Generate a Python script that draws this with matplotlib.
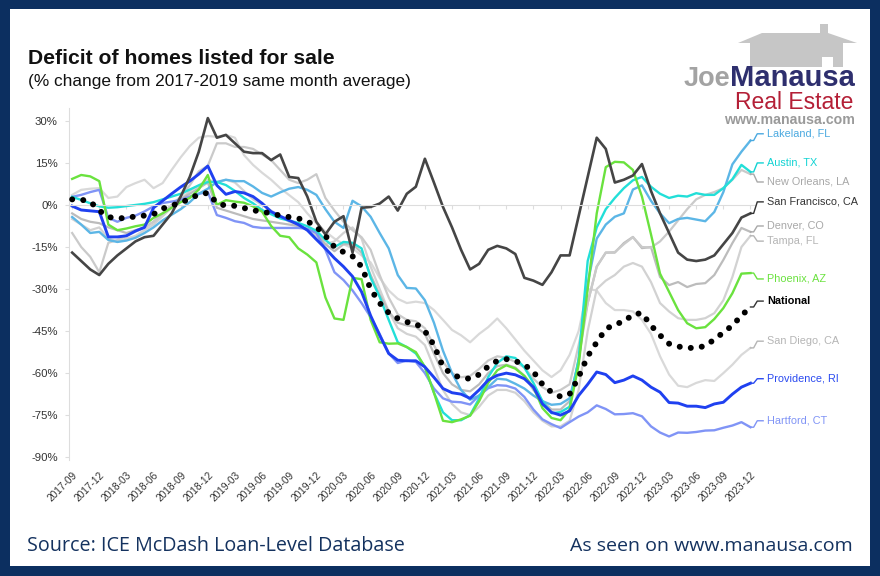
import matplotlib
matplotlib.use("Agg")
import matplotlib.pyplot as plt
from matplotlib.patches import Polygon, Rectangle
import pandas as pd

# months shown (monthly data, ticks every quarter)
months = pd.period_range("2017-09", "2023-12", freq="M").strftime("%Y-%m").tolist()
tick_idx = list(range(0, len(months), 3))

lakeland = [-4.3, -7, -10, -9.6, -12.5, -13.2, -12.7, -11.7, -10, -8, -5.5, -3.5, -1.5, 1, 4, 5.8,
            8.2, 9, 8.5, 8.5, 6.6, 4.3, 3, 4.5, 5.8, 6.4, 5.4, 3.6, -1.5, -6, -8.2, 1.5,
            -0.5, -4.2, -10, -15.5, -25, -29.6, -29.8, -34, -42, -52, -60, -66, -69.5, -68, -65, -62,
            -62.3, -63.8, -65.5, -68, -70, -71.3, -71, -69, -56, -28, -12, -7, -4.2, -3, 5.5, 7,
            1.5, -3, -6.5, -5, -4.6, -5.2, -5.8, -2.5, 4.6, 14.5, 19, 23]
austin = [2.9, 1.8, 0.6, -0.5, -1, -0.8, -0.4, 0, 0.4, 1, 2, 3, 4, 5.5, 7, 8.2,
          8.2, 7.1, 5, 2.5, 0.6, -1.8, -3.3, -4.8, -5.6, -6.4, -7.6, -9.2, -12.5, -15, -13.2, -13.5,
          -15.5, -26, -32.8, -41, -49, -50.7, -53, -57.8, -67, -74, -76.8, -76.8, -75, -69, -61.4, -56.4,
          -54, -54.6, -58, -63.5, -70, -74.3, -73.9, -72, -55, -20, -8, -1.5, 2.5, 6, 8.8, 10,
          6.5, 4, 2.5, 3.3, 3, 4.2, 3.6, 3.6, 6, 9.2, 14.3, 11.8]
new_orleans = [-10, -15, -18.5, -24, -13.5, -12.5, -11, -9.5, -8, -6, -3, 0, 3, 7, 12, 14,
               22, 22, 20.7, 20.7, 20, 18, 16, 12.5, 9, 7.8, 9, 11, 2.5, -2, -6, -9,
               -11.5, -16, -25, -33, -39, -41, -41.5, -44, -50, -56, -60, -61.5, -61, -58.5, -55.5, -54,
               -54.5, -56, -58, -62, -65, -67, -66, -64, -50, -35, -22, -17, -16.8, -14, -11.5, -15,
               -15.2, -13, -9.5, -5.5, -1.5, 2, 3.6, 4.6, 6, 9, 12.5, 11]
san_francisco = [-17, -20, -23, -25, -21, -18, -15.5, -13, -11.5, -11, -7, -3, 3, 10, 19, 31,
                 24, 25, 22, 19, 18.5, 18.5, 16, 18, 10, 9.6, 3, -6, -10.5, -6, -4, -17,
                 -1, -0.7, 0.5, 3, -2, 4, 6.5, 16.5, 8, -0.7, -8, -16, -23, -21, -16, -14.6,
                 -15.5, -17.5, -26, -27, -28.5, -24, -18, -18, -4, 10, 24, 20, 8, 9, 10.5, 14.6,
                 5, -3, -10, -17, -19.5, -20, -19.5, -18, -14, -10, -4.5, -3]
denver = [-3, -5, -6, -6.5, -8, -9, -10, -9, -8, -6, -3, 0, 2, 4, 6, 8,
          -1, -2, -3, -4, -5, -5.5, -6, -6.5, -7, -7.5, -8.5, -10, -14, -16.5, -14, -14,
          -17, -25, -32, -38, -42, -43, -43.5, -46, -53, -60, -64, -66, -66.5, -64, -60, -57.5,
          -57, -58, -61, -66, -70, -73, -73, -70, -55, -35, -22, -17, -17, -13.6, -11.4, -15.4,
          -15, -25.7, -28.6, -27.5, -29.3, -28.2, -27.9, -25, -19.6, -13.6, -8.2, -9.6]
tampa = [-5, -7, -9, -8, -12, -13, -12, -11, -9, -7, -4, -1, 2, 5, 7, 9,
         8, 9, 8, 5, 2, 0, -2, -4, -6, -7, -9, -11, -14, -13, -10, -8,
         -12, -22, -30, -38, -44, -46, -47, -50, -58, -66, -71, -74, -75, -72, -68, -66,
         -66, -67, -70, -74, -77, -79, -79, -77, -66, -45, -30, -27, -25, -22, -20.7, -22,
         -27.5, -35, -38, -40.4, -41, -41, -40.4, -38.6, -34, -25.7, -15, -11]
phoenix = [9.3, 10.7, 10.2, 8.5, -7, -9, -8.4, -7.6, -7, -4.6, -3, -1, 1, 2.5, 5.5, 10.7,
           0, 1.7, 1.2, 0.8, -0.5, -2.4, -7.5, -11, -11.5, -15.5, -17.7, -20.5, -33, -40.5, -41, -26,
           -26.5, -41, -49, -49.5, -49.4, -50.7, -52.5, -57.8, -67, -77, -77.5, -76.5, -75.2, -70, -63.5, -59,
           -57.2, -58.4, -61, -65, -72.5, -76, -76.8, -73, -57, -30, -3, 13.5, 15.4, 15.2, 12.5, 3,
           -10.5, -24.5, -31, -37.5, -42.2, -44, -43.6, -40.7, -36.8, -31.5, -24.5, -24.3]
national = [2, 1.9, 1.2, -2, -4.3, -4.8, -4.6, -4.1, -3.8, -3.3, -1.3, -0.2, 0.8, 2.2, 3.8, 4.3,
            0.7, -0.3, -0.3, -1.1, -1.9, -2.4, -3, -3.8, -4.3, -4.8, -5.8, -7.8, -11, -15, -16.8, -18.3,
            -22, -30, -35, -38.5, -40.5, -41.8, -42.3, -45, -50, -57.8, -60.5, -61.7, -62, -60.5, -57.6, -55.6,
            -55, -55.7, -57, -59.5, -64, -66.8, -68.4, -67.5, -61.4, -54, -49, -44.3, -42.5, -41.7, -39, -38.6,
            -43, -46.5, -49.5, -50.5, -51, -51, -50.3, -48, -45.5, -43, -39.5, -36.4]
san_diego = [3.6, 5.4, 5.8, 6, 2.5, 3, 6.4, 7.8, 9, 6, 7.8, 12.5, 17, 21, 24, 24.6,
             24.3, 25, 24, 17.8, 14.3, 11.5, 9, 6, 3.5, 1, -3, -6.5, -9.5, -12, -14, -15.5,
             -18, -20.5, -26, -30.5, -33.5, -35, -34.5, -35, -37.5, -41, -44.6, -46.5, -49, -46, -43.6, -40.5,
             -44, -48, -52, -55.5, -59, -61.4, -59, -53.5, -45, -30, -30.5, -35, -37.5, -37.5, -38, -41,
             -46, -54, -60.5, -64.5, -65, -63.5, -62.5, -62.8, -60, -57, -53.5, -51]
providence = [-0.4, -1.8, -2.1, -2.4, -11.4, -11.4, -11, -9.3, -8, -1, 1.5, 4, 6.4, 8.5, 11, 13.9,
              7, 3.8, 4.8, 4.3, 3, 0.6, -2.4, -4, -5.5, -7, -9, -12.3, -15.5, -19, -22, -25.5,
              -31, -39.5, -46.5, -53, -55.4, -55.6, -55.6, -57.8, -61.5, -65.5, -67, -67.5, -69, -66, -62.5, -60.8,
              -60, -60.6, -62, -65, -71, -74, -75, -73.5, -68, -64, -59.6, -60.5, -63.4, -62.5, -61, -62.5,
              -65, -66.8, -70.5, -70.7, -71.8, -71.8, -72.3, -71, -70.4, -67.5, -65, -63.6]
hartford = [2.9, 3.6, 4.6, 5.4, -4.6, -6, -4.6, -3.8, -2.3, -0.5, 0.7, 1.2, 1.8, 3, 4, 4.6,
            -3.6, -4.6, -5.8, -6.4, -7.8, -8.2, -8.2, -8.2, -8.2, -8.2, -8.5, -10, -16, -24, -26.8, -30.5,
            -35, -40, -46, -53, -56.4, -55.5, -56, -60, -65.5, -69, -70.2, -70.4, -71.2, -68, -65.4, -64.3,
            -64.5, -65.5, -68.5, -73, -76.5, -78.2, -79.6, -77.5, -75.5, -74, -71.5, -72.8, -74.7, -74.6, -74.3, -75.4,
            -79, -81.2, -82.6, -81.2, -81.3, -81, -80.5, -80.4, -79.5, -78.7, -77.5, -79.3]

# name, values, line colour, label colour, label y position, width
series = [
    ("San Diego, CA", san_diego, "#d9d9d9", "#b5b5b5", -48.6, 1.6),
    ("Tampa, FL", tampa, "#d2d2d2", "#b5b5b5", -12.9, 1.6),
    ("Denver, CO", denver, "#bcbcbc", "#a8a8a8", -7.5, 1.6),
    ("New Orleans, LA", new_orleans, "#cacaca", "#a8a8a8", 8.2, 1.6),
    ("Hartford, CT", hartford, "#8094f6", "#8094f6", -77, 1.7),
    ("Lakeland, FL", lakeland, "#5cb6e6", "#4aa9e0", 25.4, 1.7),
    ("Austin, TX", austin, "#22dfd8", "#12d3d3", 15, 1.7),
    ("Phoenix, AZ", phoenix, "#6ae23e", "#6ae23e", -26.4, 1.7),
    ("Providence, RI", providence, "#1f40f0", "#2a4af0", -62, 2.1),
    ("San Francisco, CA", san_francisco, "#454545", "#333333", 1.1, 1.9),
]

navy = "#0c2f60"
fig = plt.figure(figsize=(8.8, 5.76), dpi=100, facecolor=navy)
W, H = 880, 576


def fx(x):
    return x / W


def fy(y):
    return 1 - y / H


# white panel inside the navy frame
fig.patches.append(Rectangle((fx(10), fy(566)), fx(860), 557 / H, transform=fig.transFigure,
                             facecolor="white", edgecolor="none", zorder=-10))

ax = fig.add_axes([fx(69), fy(460), fx(755 - 69), (460 - 108) / H])
ax.set_zorder(5)
ax.set_facecolor("none")
x = list(range(len(months)))

for name, vals, col, lcol, ly, lw in series:
    ax.plot(x, vals, color=col, lw=lw, solid_joinstyle="round", zorder=2)

ax.plot(x, national, color="black", lw=4.3, linestyle=(0, (0.01, 1.85)),
        dash_capstyle="round", zorder=5)

# right-hand labels with small connectors
labels = [(n, v, lc, ly) for n, v, c, lc, ly, lw in series] + [("National", national, "black", -34.3)]
for name, vals, lcol, ly in labels:
    xe = x[-1]
    ax.plot([xe, xe + 0.35, xe + 0.75, xe + 1.4], [vals[-1], vals[-1], ly, ly],
            color=lcol if name != "National" else "#333333", lw=1.0, clip_on=False, zorder=3)
    ax.text(xe + 1.85, ly, name, color=lcol, fontsize=7.8, va="center", ha="left",
            family="Liberation Sans", fontweight="bold" if name == "National" else "normal")

ax.set_xlim(-0.35, 75.5)
ax.set_ylim(-91, 34.6)

# axis at zero with quarter ticks, labels at the bottom
ax.spines["bottom"].set_position(("data", 0))
ax.spines["bottom"].set_color("#dddddd")
ax.spines["left"].set_color("#dddddd")
for s in ("top", "right"):
    ax.spines[s].set_visible(False)
ax.set_xticks(tick_idx)
ax.tick_params(axis="x", length=3, color="#dddddd", labelbottom=False)

sec = ax.secondary_xaxis("bottom")
sec.set_xticks(tick_idx)
sec.set_xticklabels([months[i] for i in tick_idx], rotation=45, ha="right",
                    rotation_mode="anchor", fontsize=7.3, color="#333333", family="Liberation Sans")
sec.tick_params(length=0, pad=7)
sec.spines["bottom"].set_visible(False)

yt = [30, 15, 0, -15, -30, -45, -60, -75, -90]
ax.set_yticks(yt)
ax.set_yticklabels([f"{v}%" for v in yt], fontsize=8.2, color="#333333", family="Liberation Sans")
ax.tick_params(axis="y", length=3, color="#dddddd", pad=5)

# titles
fig.text(fx(28), fy(64), "Deficit of homes listed for sale", fontsize=15.2, fontweight="bold",
         family="Liberation Sans", color="#111111", va="baseline")
fig.text(fx(28), fy(86), "(% change from 2017-2019 same month average)", fontsize=12.45,
         family="Liberation Sans", color="#111111", va="baseline")

# logo
house = [(738, 43), (762, 33), (820, 33), (820, 24), (828, 24), (828, 33), (857, 43), (843, 43),
         (843, 67), (833, 67), (833, 57), (822, 57), (822, 67), (750, 67), (750, 43)]
fig.patches.append(Polygon([(fx(a), fy(b)) for a, b in house], closed=True, transform=fig.transFigure,
                           facecolor="#c6c6c6", edgecolor="none", zorder=1))
man = fig.text(fx(855), fy(85.5), "Manausa", fontsize=21, fontweight="bold", color="#2e2f6e",
               family="Liberation Sans", va="baseline", ha="right")
bb = man.get_window_extent(renderer=fig.canvas.get_renderer())
fig.text(bb.x0 / W + fx(0.5), fy(85.5), "Joe", fontsize=19.5, fontweight="bold", color="#a3a3a3",
         family="Liberation Sans", va="baseline", ha="right")
fig.text(fx(853), fy(109), "Real Estate", fontsize=16.5, color="#b41f36",
         family="Liberation Sans", va="baseline", ha="right")
fig.text(fx(855), fy(124.2), "www.manausa.com", fontsize=10.2, fontweight="bold", color="#9a9a9a",
         family="Liberation Sans", va="baseline", ha="right")

# footer
fig.text(fx(27), fy(546), "Source: ICE McDash Loan-Level Database", fontsize=14.2, color="#14325f",
         family="Open Sans", va="center")
fig.text(fx(853), fy(546), "As seen on www.manausa.com", fontsize=14, color="#14325f",
         family="Open Sans", va="center", ha="right")

fig.savefig("out.png", dpi=100, facecolor=navy)
